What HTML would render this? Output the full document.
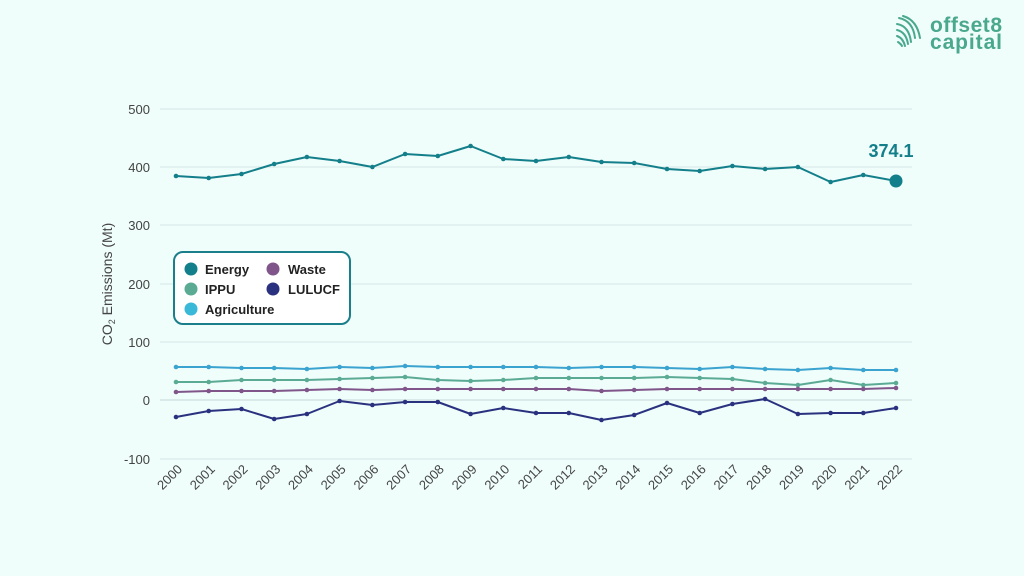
<!DOCTYPE html>
<html><head><meta charset="utf-8"><style>
html,body{margin:0;padding:0;background:#effdfb;}
svg{display:block;font-family:"Liberation Sans",sans-serif;}
</style></head><body>
<svg width="1024" height="576" viewBox="0 0 1024 576">
<defs>
<marker id="mE" markerWidth="6" markerHeight="6" refX="3" refY="3" markerUnits="userSpaceOnUse"><circle cx="3" cy="3" r="2.3" fill="#137f8a"/></marker>
<marker id="mA" markerWidth="6" markerHeight="6" refX="3" refY="3" markerUnits="userSpaceOnUse"><circle cx="3" cy="3" r="2.3" fill="#3aa3cf"/></marker>
<marker id="mI" markerWidth="6" markerHeight="6" refX="3" refY="3" markerUnits="userSpaceOnUse"><circle cx="3" cy="3" r="2.3" fill="#5bab94"/></marker>
<marker id="mW" markerWidth="6" markerHeight="6" refX="3" refY="3" markerUnits="userSpaceOnUse"><circle cx="3" cy="3" r="2.3" fill="#80558a"/></marker>
<marker id="mL" markerWidth="6" markerHeight="6" refX="3" refY="3" markerUnits="userSpaceOnUse"><circle cx="3" cy="3" r="2.3" fill="#2a327f"/></marker>
</defs>
<rect width="1024" height="576" fill="#effdfb"/>
<g stroke="#d6e6e4" stroke-width="1">
<line x1="160" x2="912" y1="109" y2="109"/><line x1="160" x2="912" y1="167" y2="167"/>
<line x1="160" x2="912" y1="225" y2="225"/><line x1="160" x2="912" y1="284" y2="284"/>
<line x1="160" x2="912" y1="342" y2="342"/><line x1="160" x2="912" y1="400" y2="400" stroke="#c6d6d4"/>
<line x1="160" x2="912" y1="459" y2="459"/>
</g>
<g font-size="13" fill="#444" text-anchor="end">
<text x="150" y="114">500</text><text x="150" y="172">400</text><text x="150" y="230">300</text>
<text x="150" y="289">200</text><text x="150" y="347">100</text><text x="150" y="405">0</text><text x="150" y="464">-100</text>
</g>
<text transform="translate(112,284) rotate(-90)" text-anchor="middle" font-size="14" fill="#444">CO<tspan font-size="9" dy="3">2</tspan><tspan dy="-3"> Emissions (Mt)</tspan></text>
<g font-size="13" fill="#444" text-anchor="end">
<text transform="translate(183,470) rotate(-45)">2000</text><text transform="translate(215.7,470) rotate(-45)">2001</text>
<text transform="translate(248.5,470) rotate(-45)">2002</text><text transform="translate(281.2,470) rotate(-45)">2003</text>
<text transform="translate(313.9,470) rotate(-45)">2004</text><text transform="translate(346.6,470) rotate(-45)">2005</text>
<text transform="translate(379.4,470) rotate(-45)">2006</text><text transform="translate(412.1,470) rotate(-45)">2007</text>
<text transform="translate(444.8,470) rotate(-45)">2008</text><text transform="translate(477.6,470) rotate(-45)">2009</text>
<text transform="translate(510.3,470) rotate(-45)">2010</text><text transform="translate(543,470) rotate(-45)">2011</text>
<text transform="translate(575.8,470) rotate(-45)">2012</text><text transform="translate(608.5,470) rotate(-45)">2013</text>
<text transform="translate(641.2,470) rotate(-45)">2014</text><text transform="translate(674,470) rotate(-45)">2015</text>
<text transform="translate(706.7,470) rotate(-45)">2016</text><text transform="translate(739.4,470) rotate(-45)">2017</text>
<text transform="translate(772.1,470) rotate(-45)">2018</text><text transform="translate(804.9,470) rotate(-45)">2019</text>
<text transform="translate(837.6,470) rotate(-45)">2020</text><text transform="translate(870.3,470) rotate(-45)">2021</text>
<text transform="translate(903,470) rotate(-45)">2022</text>
</g>
<g fill="none" stroke-width="2" stroke-linejoin="round">
<polyline stroke="#137f8a" marker-start="url(#mE)" marker-mid="url(#mE)" points="176,176 208.7,178 241.5,174 274.2,164 306.9,157 339.6,161 372.4,167 405.1,154 437.8,156 470.6,146 503.3,159 536,161 568.8,157 601.5,162 634.2,163 667,169 699.7,171 732.4,166 765.1,169 797.9,167 830.6,182 863.3,175 896,181"/>
<polyline stroke="#3aa3cf" marker-start="url(#mA)" marker-mid="url(#mA)" marker-end="url(#mA)" points="176,367 208.7,367 241.5,368 274.2,368 306.9,369 339.6,367 372.4,368 405.1,366 437.8,367 470.6,367 503.3,367 536,367 568.8,368 601.5,367 634.2,367 667,368 699.7,369 732.4,367 765.1,369 797.9,370 830.6,368 863.3,370 896,370"/>
<polyline stroke="#5bab94" marker-start="url(#mI)" marker-mid="url(#mI)" marker-end="url(#mI)" points="176,382 208.7,382 241.5,380 274.2,380 306.9,380 339.6,379 372.4,378 405.1,377 437.8,380 470.6,381 503.3,380 536,378 568.8,378 601.5,378 634.2,378 667,377 699.7,378 732.4,379 765.1,383 797.9,385 830.6,380 863.3,385 896,383"/>
<polyline stroke="#80558a" marker-start="url(#mW)" marker-mid="url(#mW)" marker-end="url(#mW)" points="176,392 208.7,391 241.5,391 274.2,391 306.9,390 339.6,389 372.4,390 405.1,389 437.8,389 470.6,389 503.3,389 536,389 568.8,389 601.5,391 634.2,390 667,389 699.7,389 732.4,389 765.1,389 797.9,389 830.6,389 863.3,389 896,388"/>
<polyline stroke="#2a327f" marker-start="url(#mL)" marker-mid="url(#mL)" marker-end="url(#mL)" points="176,417 208.7,411 241.5,409 274.2,419 306.9,414 339.6,401 372.4,405 405.1,402 437.8,402 470.6,414 503.3,408 536,413 568.8,413 601.5,420 634.2,415 667,403 699.7,413 732.4,404 765.1,399 797.9,414 830.6,413 863.3,413 896,408"/>
</g>
<circle cx="896" cy="181" r="6.5" fill="#137f8a"/>
<text x="891" y="157" text-anchor="middle" font-size="18" font-weight="bold" fill="#137f8a">374.1</text>
<rect x="174" y="252" width="176" height="72" rx="9" fill="#fff" stroke="#1a7f8a" stroke-width="2"/>
<g font-size="13" font-weight="bold" fill="#222">
<circle cx="191" cy="269" r="6.5" fill="#137f8a"/><text x="205" y="274">Energy</text>
<circle cx="273" cy="269" r="6.5" fill="#80558a"/><text x="288" y="274">Waste</text>
<circle cx="191" cy="289" r="6.5" fill="#5bab94"/><text x="205" y="294">IPPU</text>
<circle cx="273" cy="289" r="6.5" fill="#2a327f"/><text x="288" y="294">LULUCF</text>
<circle cx="191" cy="309" r="6.5" fill="#3ab8d8"/><text x="205" y="314">Agriculture</text>
</g>
<g fill="none" stroke="#4aa88c" stroke-width="2" stroke-linecap="round">
<path d="M899 18 q14 3 16 20"/><path d="M897 24 q12 2 14 18"/><path d="M897 30 q9 2 11 14"/>
<path d="M897 36 q6 2 8 10"/><path d="M898 42 q3 2 4 4"/><path d="M903 16 q14 4 17 22"/>
</g>
<g font-size="21" fill="#4aa88c" font-weight="bold" font-family="'Liberation Sans',sans-serif">
<text x="930" y="32" textLength="72">offset8</text><text x="930" y="49" textLength="72">capital</text>
</g>
</svg>
</body></html>
